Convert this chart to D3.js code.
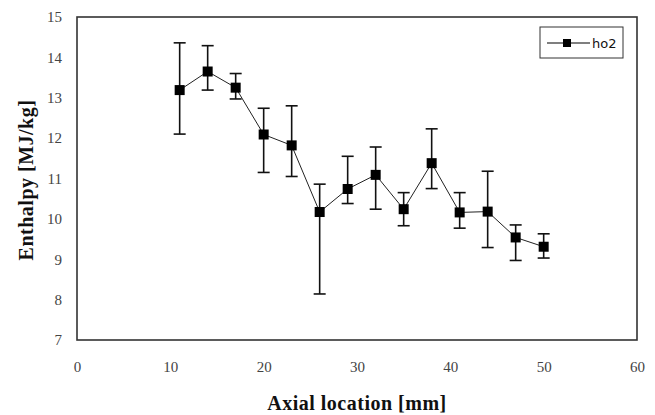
<!DOCTYPE html>
<html>
	<head>
		<meta charset="utf-8">
		<title>Enthalpy vs axial location</title>
		<script type="text/javascript" src="https://cdn.jsdelivr.net/npm/d3@7/dist/d3.min.js"></script>
		<style type="text/css">
			body{ margin: 0; background: #fff; }
			svg{ display: block; }
		</style>
	</head>
	<body>
		<div id="chart"></div>
	</body>
	<script type="text/javascript">

		// data
		const axialPos = [11, 14, 17, 20, 23, 26, 29, 32, 35, 38, 41, 44, 47, 50];
		const enthalpy = [13.19, 13.65, 13.25, 12.09, 11.82, 10.17, 10.74, 11.09, 10.24, 11.38, 10.16, 10.18, 9.54, 9.31];
		const errHigh  = [14.36, 14.29, 13.60, 12.74, 12.80, 10.86, 11.55, 11.78, 10.65, 12.23, 10.65, 11.18, 9.85, 9.63];
		const errLow   = [12.10, 13.19, 12.97, 11.15, 11.05, 8.14, 10.38, 10.24, 9.83, 10.75, 9.77, 9.29, 8.97, 9.03];
		const xTicks = [0, 10, 20, 30, 40, 50, 60];
		const yTicks = [7, 8, 9, 10, 11, 12, 13, 14, 15];
		const seriesName = "ho2";

		const w = 655, h = 415;
		const pLeft = 77, pRight = 637, pTop = 17, pBottom = 340;

		let svg = d3.select("#chart")
					.append("svg")
					.attr("width", w)
					.attr("height", h);

		let xScale = d3.scaleLinear().domain([0, 60]).range([pLeft, pRight]);
		let yScale = d3.scaleLinear().domain([7, 15]).range([pBottom, pTop]);

		const points = axialPos.map(function(d, i){
			return { x: d, y: enthalpy[i], hi: errHigh[i], lo: errLow[i] };
		});

		// axes, labels only (no tick marks)
		let xAxis = d3.axisBottom(xScale).tickValues(xTicks).tickSize(0).tickPadding(21);
		let yAxis = d3.axisLeft(yScale).tickValues(yTicks).tickSize(0).tickPadding(15);

		svg.append("g")
			.attr("transform", "translate(0," + pBottom + ")")
			.call(xAxis)
			.call(function(g){ g.select(".domain").remove(); });

		svg.append("g")
			.attr("transform", "translate(" + pLeft + ",0)")
			.call(yAxis)
			.call(function(g){ g.select(".domain").remove(); });

		svg.selectAll(".tick text")
			.attr("font-family", "'Liberation Serif', 'DejaVu Serif', serif")
			.attr("font-size", "15px")
			.attr("fill", "#444");

		// plot frame
		svg.append("rect")
			.attr("x", pLeft)
			.attr("y", pTop)
			.attr("width", pRight - pLeft)
			.attr("height", pBottom - pTop)
			.attr("fill", "none")
			.attr("stroke", "#333")
			.attr("stroke-width", 1.6);

		// connecting line
		let line = d3.line()
			.x(function(d){ return xScale(d.x); })
			.y(function(d){ return yScale(d.y); });

		svg.append("path")
			.datum(points)
			.attr("d", line)
			.attr("fill", "none")
			.attr("stroke", "#222")
			.attr("stroke-width", 1);

		// error bars
		let bars = svg.selectAll(".err")
			.data(points)
			.enter()
			.append("g")
			.attr("class", "err")
			.attr("stroke", "#111")
			.attr("stroke-width", 1.6);

		bars.append("line")
			.attr("x1", function(d){ return xScale(d.x); })
			.attr("x2", function(d){ return xScale(d.x); })
			.attr("y1", function(d){ return yScale(d.hi); })
			.attr("y2", function(d){ return yScale(d.lo); });

		bars.append("line")
			.attr("x1", function(d){ return xScale(d.x) - 6; })
			.attr("x2", function(d){ return xScale(d.x) + 6; })
			.attr("y1", function(d){ return yScale(d.hi); })
			.attr("y2", function(d){ return yScale(d.hi); });

		bars.append("line")
			.attr("x1", function(d){ return xScale(d.x) - 6; })
			.attr("x2", function(d){ return xScale(d.x) + 6; })
			.attr("y1", function(d){ return yScale(d.lo); })
			.attr("y2", function(d){ return yScale(d.lo); });

		// square markers
		svg.selectAll(".marker")
			.data(points)
			.enter()
			.append("rect")
			.attr("class", "marker")
			.attr("x", function(d){ return xScale(d.x) - 5; })
			.attr("y", function(d){ return yScale(d.y) - 5; })
			.attr("width", 10)
			.attr("height", 10)
			.attr("fill", "#000");

		// legend
		let legend = svg.append("g").attr("transform", "translate(540,27)");
		legend.append("rect")
			.attr("width", 83)
			.attr("height", 31)
			.attr("fill", "#fff")
			.attr("stroke", "#333")
			.attr("stroke-width", 1);
		legend.append("line")
			.attr("x1", 7).attr("x2", 50)
			.attr("y1", 16).attr("y2", 16)
			.attr("stroke", "#000")
			.attr("stroke-width", 1.2);
		legend.append("rect")
			.attr("x", 23).attr("y", 12)
			.attr("width", 8).attr("height", 8)
			.attr("fill", "#000");
		legend.append("text")
			.text(seriesName)
			.attr("x", 52)
			.attr("y", 21)
			.attr("font-family", "'DejaVu Sans', sans-serif")
			.attr("font-size", "13px")
			.attr("fill", "#111");

		// axis titles
		svg.append("text")
			.text("Axial location [mm]")
			.attr("x", 357)
			.attr("y", 410)
			.attr("text-anchor", "middle")
			.attr("font-family", "'Liberation Serif', serif")
			.attr("font-weight", "bold")
			.attr("font-size", "20px")
			.attr("letter-spacing", "0.5px")
			.attr("fill", "#111");

		svg.append("text")
			.text("Enthalpy [MJ/kg]")
			.attr("transform", "translate(33,180) rotate(-90)")
			.attr("text-anchor", "middle")
			.attr("font-family", "'Liberation Serif', serif")
			.attr("font-weight", "bold")
			.attr("font-size", "20px")
			.attr("letter-spacing", "0.5px")
			.attr("fill", "#111");
	</script>
</html>
